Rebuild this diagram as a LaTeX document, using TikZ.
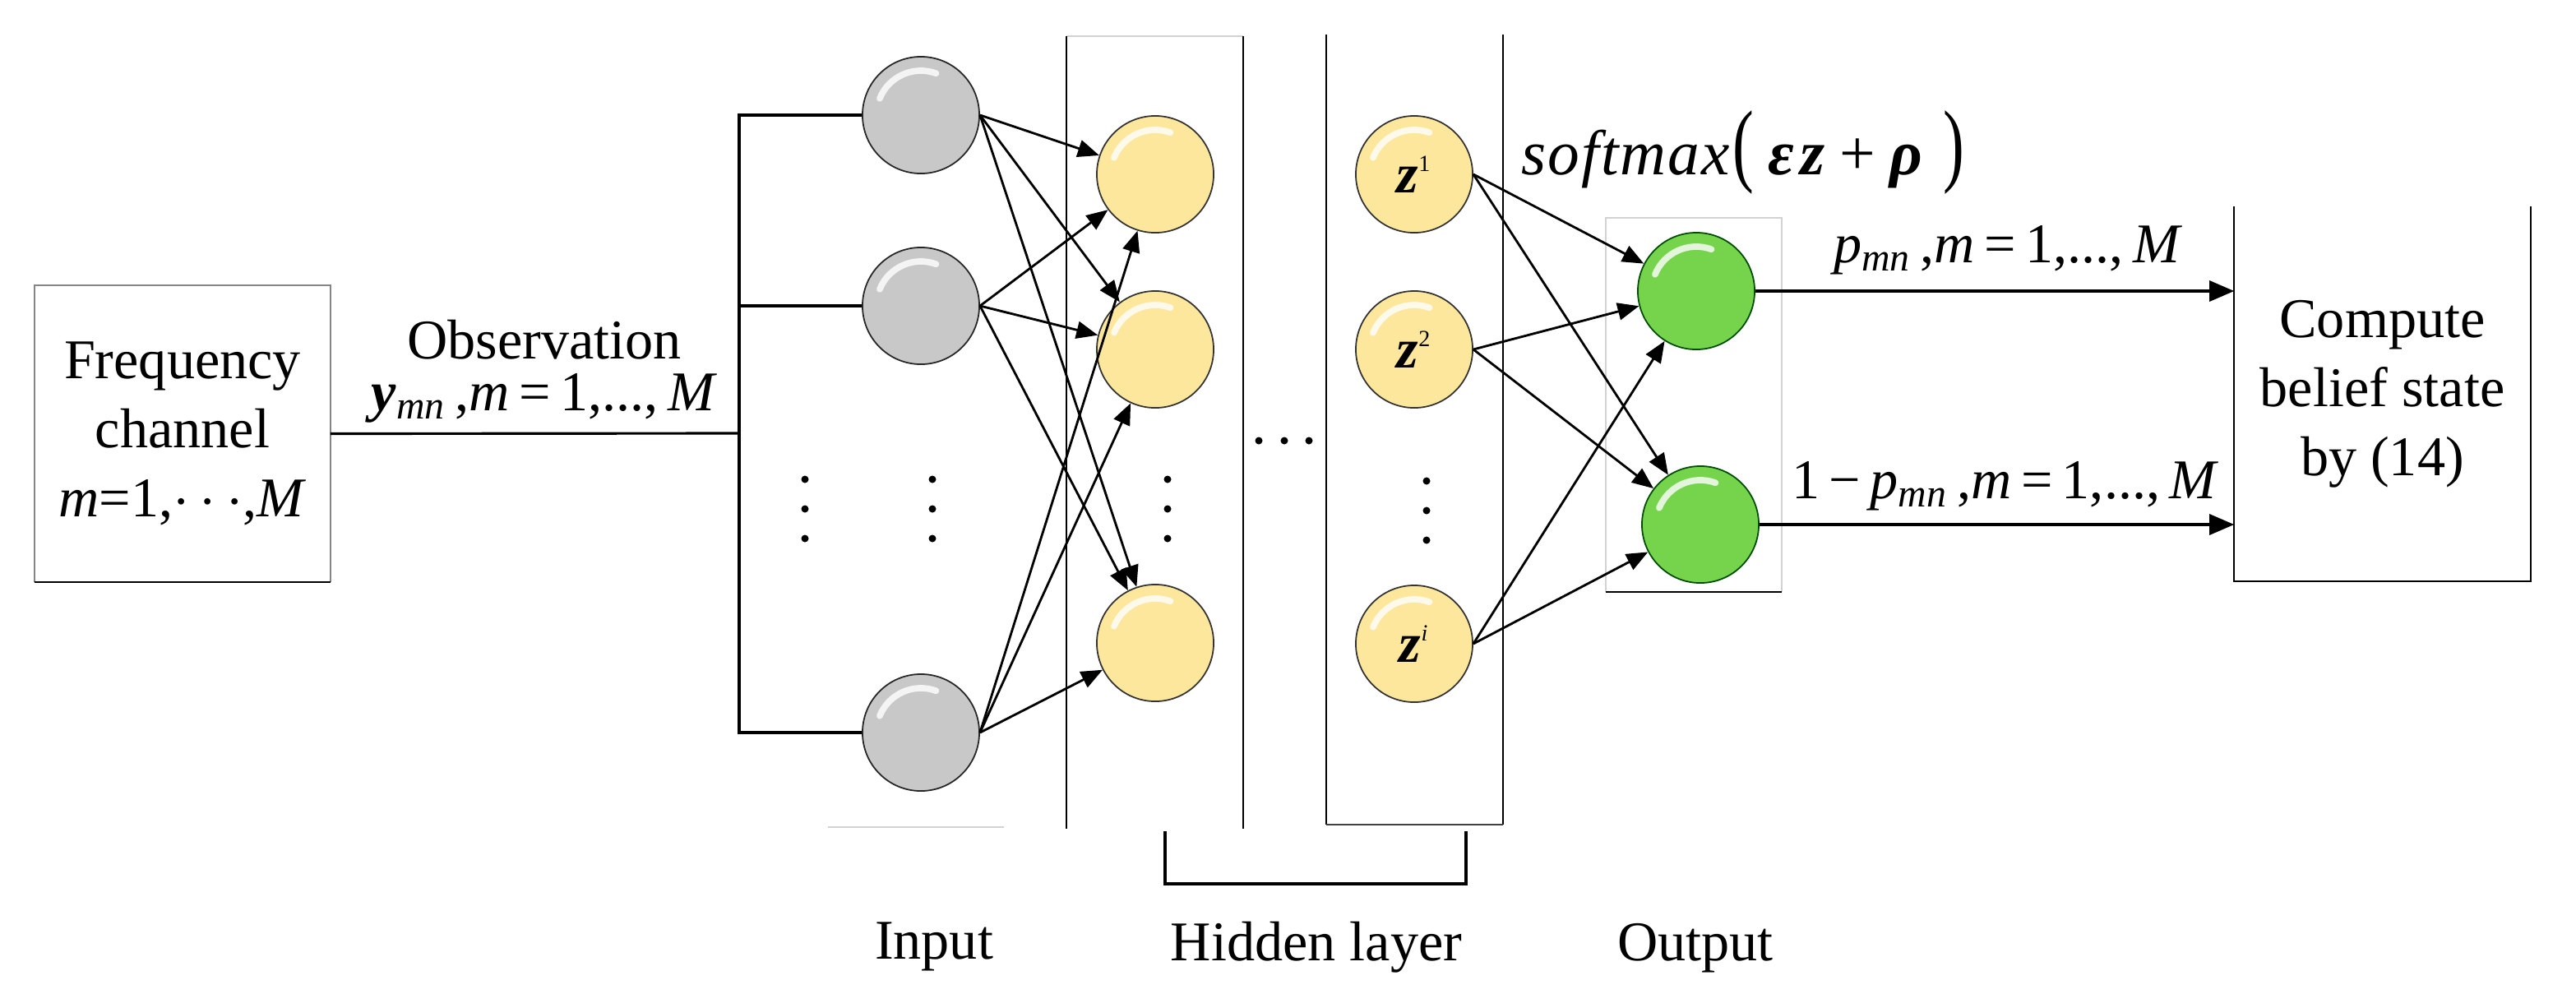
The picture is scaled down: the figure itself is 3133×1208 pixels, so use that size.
\documentclass[tikz,border=0pt]{standalone}
\usepackage{fontspec}
\setmainfont{Liberation Serif}
\usepackage{graphicx}
\usetikzlibrary{arrows.meta,calc}

\definecolor{gbase}{HTML}{C8C8C8}
\definecolor{gmid}{HTML}{9C9C9C}
\definecolor{gdark}{HTML}{3E3E3E}
\definecolor{ybase}{HTML}{FCE79C}
\definecolor{ymid}{HTML}{E2C56E}
\definecolor{ydark}{HTML}{6E5A22}
\definecolor{grbase}{HTML}{76D44C}
\definecolor{grmid}{HTML}{52AA2C}
\definecolor{grdark}{HTML}{24520E}
\definecolor{lgray}{HTML}{D2D2D2}
\definecolor{mgray}{HTML}{858585}

\pgfdeclareradialshading{graysph}{\pgfpoint{0bp}{4bp}}{color(0bp)=(gbase); color(35bp)=(gbase); color(45bp)=(gmid); color(53bp)=(gdark); color(60bp)=(gdark)}
\pgfdeclareradialshading{yelsph}{\pgfpoint{0bp}{4bp}}{color(0bp)=(ybase); color(35bp)=(ybase); color(45bp)=(ymid); color(53bp)=(ydark); color(60bp)=(ydark)}
\pgfdeclareradialshading{grnsph}{\pgfpoint{0bp}{4bp}}{color(0bp)=(grbase); color(35bp)=(grbase); color(45bp)=(grmid); color(53bp)=(grdark); color(60bp)=(grdark)}

\tikzset{
  txt/.style={font=\fontsize{19.4}{23.9}\selectfont, inner sep=0pt},
  hl/.style={path picture={
      \draw[white, opacity=0.8, line width=2.2pt, line cap=round]
        ($(path picture bounding box.center)+(158:0.54cm)$)
        arc[start angle=158, end angle=70, radius=0.54cm];}},
  sph/.style={circle, minimum size=1.42cm, inner sep=0pt, draw=#1, line width=0.5pt, hl,
      font=\fontsize{19.4}{19.4}\selectfont},
  gsph/.style={sph=black!85, shading=graysph},
  ysph/.style={sph=black!80, shading=yelsph},
  grsph/.style={sph=black!70!green, shading=grnsph},
  conn/.style={line width=0.8pt, -{Triangle[length=0.26cm,width=0.21cm]}},
  outarrow/.style={line width=0.9pt, -{Triangle[length=0.3cm,width=0.25cm]}},
  wire/.style={line width=0.9pt},
  boxtxt/.style={txt, align=center, inner sep=0pt, minimum width=#1}
}

\newcommand{\bi}[1]{\textbf{\textit{#1}}}
\newcommand{\sbs}[1]{\textsubscript{\textit{#1}}}

\begin{document}
\begin{tikzpicture}[x=0.01cm, y=-0.01cm]
\useasboundingbox (0,0) rectangle (3133,1208);

% ---------------- boxes ----------------
\node[boxtxt=3.58cm, minimum height=3.59cm] (fc) at (222,527.5)
  {Frequency\\channel\\\textit{m}=1,$\cdots$,\textit{M}};
\draw[mgray, line width=0.6pt] (fc.south west) -- (fc.north west) -- (fc.north east) -- (fc.south east);
\draw[black, line width=0.6pt] (fc.south west) -- (fc.south east);

\node[boxtxt=3.59cm, minimum height=4.54cm] (cb) at (2897.5,479)
  {Compute\\belief state\\by (14)};
\draw[line width=0.6pt] (cb.north west) -- (cb.south west) -- (cb.south east) -- (cb.north east);

% hidden layer columns
\draw[lgray, line width=0.6pt] (1297,44) -- (1512,44);
\draw[line width=0.6pt] (1297,44) -- (1297,1008);
\draw[line width=0.6pt] (1512,44) -- (1512,1008);
\draw[line width=0.6pt] (1613,42) -- (1613,1003);
\draw[line width=0.6pt] (1828,42) -- (1828,1003);
\draw[black!75, line width=0.8pt] (1613,1003) -- (1828,1003);
% input column base
\draw[lgray, line width=0.8pt] (1007,1006) -- (1221,1006);
% output column
\draw[lgray, line width=0.6pt] (1953,720) -- (1953,265) -- (2167,265) -- (2167,720);
\draw[line width=0.6pt] (1953,720) -- (2167,720);
% hidden layer bracket
\draw[wire] (1417,1011) -- (1417,1075) -- (1783,1075) -- (1783,1011);

% ---------------- neurons ----------------
\node[gsph] (g1) at (1120,140) {};
\node[gsph] (g2) at (1120,372) {};
\node[gsph] (g4) at (1120,891) {};

\node[ysph] (y1) at (1405,212) {};
\node[ysph] (y2) at (1405,425) {};
\node[ysph] (y3) at (1405,782) {};

\node[ysph] (z1) at (1720,212) {\bi{z}\textsuperscript{\fontsize{8}{8}\selectfont 1}};
\node[ysph] (z2) at (1720,425) {\bi{z}\textsuperscript{\fontsize{8}{8}\selectfont 2}};
\node[ysph] (zi) at (1720,783) {\bi{z}\textsuperscript{\fontsize{8}{8}\selectfont \textit{i}}};

\node[grsph] (o1) at (2063,354) {};
\node[grsph] (o2) at (2068,638) {};

% ---------------- dots ----------------
\foreach \xx in {979,1134,1420} {
  \foreach \yy in {583,619,655} { \fill (\xx,\yy) circle[radius=0.045cm]; }
}
\foreach \yy in {585,621,657} { \fill (1735,\yy) circle[radius=0.045cm]; }
\foreach \xx in {1531,1562,1592} { \fill (\xx,536) circle[radius=0.045cm]; }

% ---------------- wiring ----------------
\coordinate (bx) at (899,527);
\draw[wire] (fc.east) -- (bx);
\draw[wire] (g1.west) -| (bx) |- (g4.west);
\draw[wire] (g2.west) -- (g2.west -| bx);

\foreach \s in {g1,g2,g4} {
  \foreach \t in {y1,y2,y3} { \draw[conn] (\s.east) -- (\t); }
}
\foreach \s in {z1,z2,zi} {
  \foreach \t in {o1,o2} { \draw[conn] (\s.east) -- (\t); }
}
\draw[outarrow] (o1.east) -- (o1.east -| cb.west);
\draw[outarrow] (o2.east) -- (o2.east -| cb.west);

% ---------------- labels ----------------
\node[txt, anchor=base] (lobs1) at (662,436) {Observation};
\node[txt, anchor=base] (lobs2) at (662,499)
  {\bi{y}\sbs{mn}\,,\textit{m}\,=\,1,...,\,\textit{M}};

\node[txt, anchor=base west] (lsoft) at (1850,212)
  {\fontsize{22}{22}\selectfont{\itshape s\kern0.6pt o\kern0.6pt f\kern0.6pt t\kern0.6pt m\kern0.6pt a\kern0.6pt x}\kern1pt\scalebox{1}[1.45]{(}\kern5pt\bi{ε}\kern2pt\bi{z}\kern5pt+\kern5pt\bi{ρ}\kern7pt\scalebox{1}[1.45]{)}};

\node[txt, anchor=base] (lp1) at (2442,319)
  {\textit{p}\sbs{mn}\,,\textit{m}\,=\,1,...,\,\textit{M}};
\node[txt, anchor=base] (lp2) at (2439,606)
  {1\,−\,\textit{p}\sbs{mn}\,,\textit{m}\,=\,1,...,\,\textit{M}};

\node[txt, anchor=base] (lin) at (1136,1166) {Input};
\node[txt, anchor=base] (lhid) at (1601,1168) {Hidden layer};
\node[txt, anchor=base] (lout) at (2062,1168) {Output};
\end{tikzpicture}
\end{document}
